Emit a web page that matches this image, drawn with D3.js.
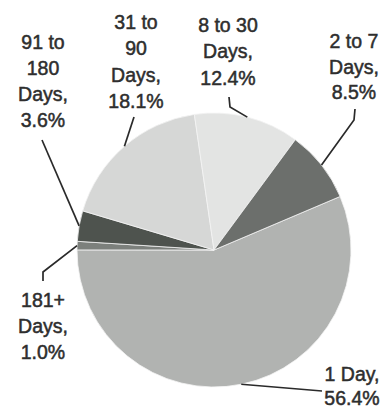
<!DOCTYPE html>
<html>
<head>
<meta charset="utf-8">
<script src="https://cdn.jsdelivr.net/npm/d3@7/dist/d3.min.js"></script>
<style>
  html, body { margin: 0; padding: 0; background: #fff; }
  svg { display: block; }
  text { font-family: "Liberation Sans", Arial, sans-serif; }
</style>
</head>
<body>
<svg id="chart" width="384" height="410"></svg>
<script>
// Time-to-resolution shares, in pie order (clockwise)
const categories = ["1 Day", "181+ Days", "91 to 180 Days", "31 to 90 Days", "8 to 30 Days", "2 to 7 Days"];
const shares = [56.4, 1.0, 3.6, 18.1, 12.4, 8.5];
const labelLines = [
  ["1 Day,", "56.4%"],
  ["181+", "Days,", "1.0%"],
  ["91 to", "180", "Days,", "3.6%"],
  ["31 to", "90", "Days,", "18.1%"],
  ["8 to 30", "Days,", "12.4%"],
  ["2 to 7", "Days,", "8.5%"]
];
const fills = ["#b1b3b1", "#7c807c", "#4e534e", "#d6d7d6", "#e3e4e3", "#6c6f6c"];

// Label layout: first-line baseline, centre x, and leader path points (label side)
const labelLayout = [
  { x: 352, y: 381, dy: 24, leader: [[322, 391]] },
  { x: 43,  y: 307, dy: 26, leader: [[43, 272], [43, 281]] },
  { x: 43,  y: 49,  dy: 26, leader: [[42, 140]] },
  { x: 136, y: 29,  dy: 26.3, leader: [[134, 117]] },
  { x: 228, y: 32,  dy: 26.3, leader: [[230, 107], [229, 97]] },
  { x: 354, y: 48,  dy: 25.5, leader: [[354, 120], [355, 109]] }
];

const cx = 214, cy = 250, radius = 137;
const svg = d3.select("#chart");
const g = svg.append("g").attr("transform", `translate(${cx},${cy})`);

const pie = d3.pie().sort(null).value(d => d)
  .startAngle(67 * Math.PI / 180)
  .endAngle(67 * Math.PI / 180 + 2 * Math.PI);
const arcs = pie(shares);
const arc = d3.arc().innerRadius(0).outerRadius(radius);

g.selectAll("path.slice")
  .data(arcs)
  .join("path")
  .attr("class", "slice")
  .attr("d", arc)
  .attr("fill", (d, i) => fills[i])
  .attr("stroke", "#f4f4f4")
  .attr("stroke-width", 0.8)
  .attr("stroke-linejoin", "round");

// Leader lines from each slice's outer midpoint to its label
arcs.forEach((a, i) => {
  const mid = (a.startAngle + a.endAngle) / 2;
  const start = [cx + radius * Math.sin(mid), cy - radius * Math.cos(mid)];
  const pts = [start].concat(labelLayout[i].leader);
  svg.append("path")
    .attr("d", d3.line()(pts))
    .attr("fill", "none")
    .attr("stroke", "#2a2a2a")
    .attr("stroke-width", 1.7);
});

// Category labels
labelLines.forEach((lines, i) => {
  const L = labelLayout[i];
  const t = svg.append("text")
    .attr("text-anchor", "middle")
    .attr("font-size", 19.5)
    .attr("fill", "#2e2e2e")
    .attr("stroke", "#2e2e2e")
    .attr("stroke-width", 0.5);
  lines.forEach((s, k) => {
    t.append("tspan").attr("x", L.x).attr("y", L.y + k * L.dy).text(s);
  });
});
</script>
</body>
</html>
